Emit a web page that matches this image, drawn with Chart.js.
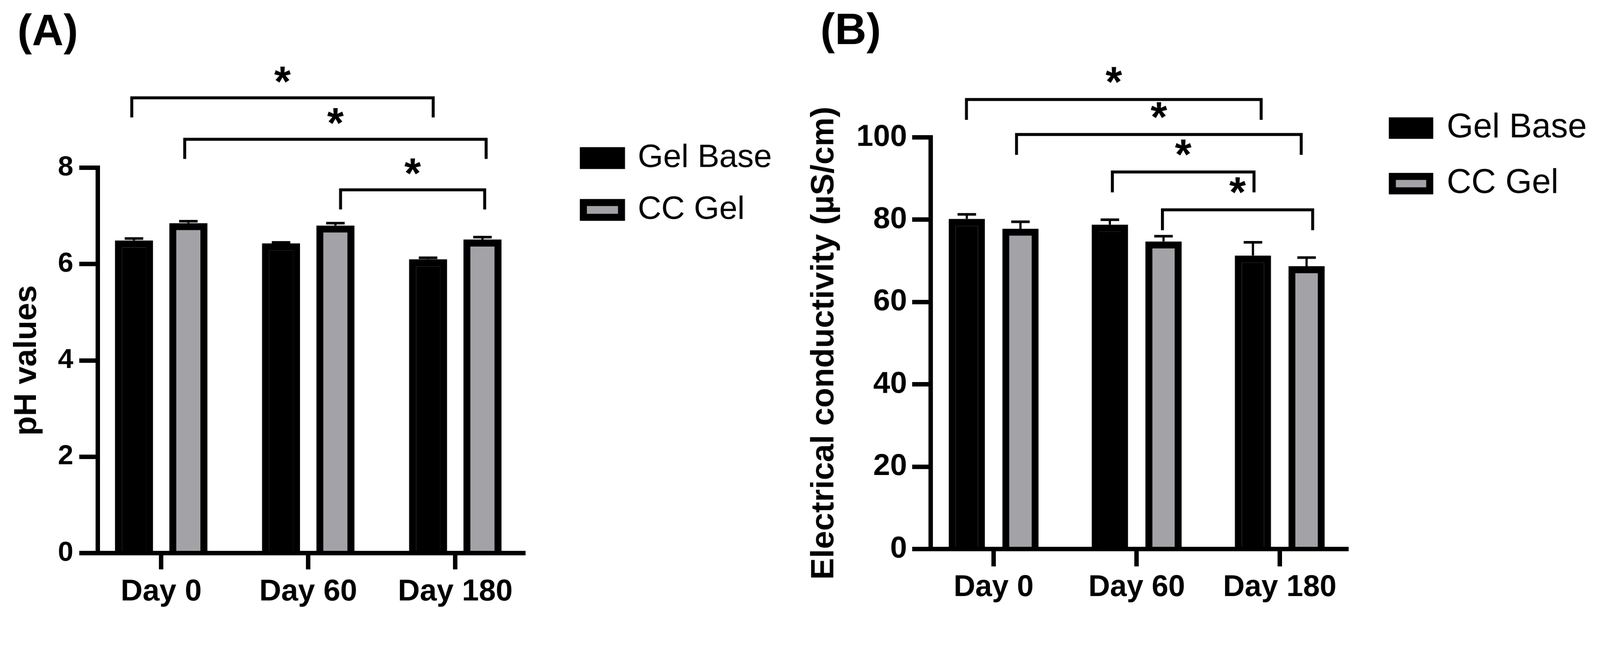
<!DOCTYPE html>
<html>
<head>
<meta charset="utf-8">
<script src="https://cdn.jsdelivr.net/npm/chart.js@4.4.0/dist/chart.umd.min.js"></script>
<style>
  html, body { margin: 0; padding: 0; background: #fff; overflow: hidden; }
  #figure { position: relative; width: 4321px; height: 1664px; }
  .panel { position: absolute; top: 0; height: 1664px; }
  canvas { display: block; }
</style>
</head>
<body>
<div id="figure">
  <div class="panel" style="left:0;width:2160px"><canvas id="ph-chart" width="2160" height="1664"></canvas></div>
  <div class="panel" style="left:2160px;width:2161px"><canvas id="ec-chart" width="2161" height="1664"></canvas></div>
</div>
<script>
var days = ['Day 0', 'Day 60', 'Day 180'];
var seriesNames = ['Gel Base', 'CC Gel'];

var phGelBase = [6.49, 6.43, 6.10];
var phGelBaseErr = [0.04, 0.02, 0.03];
var phCCGel = [6.85, 6.80, 6.51];
var phCCGelErr = [0.04, 0.05, 0.05];
var phTicks = [0, 2, 4, 6, 8];

var ecGelBase = [80.2, 78.8, 71.3];
var ecGelBaseErr = [1.1, 1.2, 3.2];
var ecCCGel = [77.8, 74.7, 68.7];
var ecCCGelErr = [1.7, 1.3, 2.1];
var ecTicks = [0, 20, 40, 60, 80, 100];

// significance brackets: [from, to] on the day axis, then height in axis units
var phBrackets = [[-0.20, 1.85, 9.45], [0.16, 2.21, 8.59], [1.22, 2.20, 7.54]];
var ecBrackets = [[-0.19, 1.87, 109.2], [0.16, 2.15, 100.7], [0.83, 1.82, 91.6], [1.18, 2.23, 82.4]];

// the figure is laid out in screen pixels; fit it to the actual viewport
var fit = window.innerWidth / 4321;
if (fit > 0 && Math.abs(fit - 1) > 0.002) document.getElementById('figure').style.zoom = fit;

var FONT = '"Liberation Sans", Arial, sans-serif';
Chart.defaults.font.family = FONT;
Chart.defaults.color = '#000';

function toPoints(values) {
  return values.map(function (v, i) { return { x: i, y: v }; });
}

// error bars, brackets, stars and the panel letter
function annotations(o) {
  return {
    id: 'annotations',
    afterLayout: function (chart) {
      // move the legend box next to the plot (it clips to its own box)
      var lg = chart.legend;
      lg.left = o.legendLeft;
      lg.top = o.legendTop;
      lg.width = chart.width - o.legendLeft;
      lg.height = chart.height - o.legendTop;
      lg.right = chart.width;
      lg.bottom = chart.height;
    },
    afterDatasetsDraw: function (chart) {
      var ctx = chart.ctx, xs = chart.scales.x, ys = chart.scales.y;
      ctx.save();
      ctx.strokeStyle = '#000';
      ctx.fillStyle = '#000';
      o.errors.forEach(function (errs, d) {
        var values = chart.data.datasets[d].data;
        chart.getDatasetMeta(d).data.forEach(function (bar, i) {
          var top = ys.getPixelForValue(values[i].y + errs[i]);
          ctx.lineWidth = 6;
          ctx.beginPath(); ctx.moveTo(bar.x, bar.y); ctx.lineTo(bar.x, top); ctx.stroke();
          ctx.lineWidth = 7;
          ctx.beginPath(); ctx.moveTo(bar.x - 25, top); ctx.lineTo(bar.x + 25, top); ctx.stroke();
        });
      });

      ctx.lineWidth = 8;
      ctx.font = 'bold 115px ' + FONT;
      ctx.textAlign = 'center';
      ctx.textBaseline = 'alphabetic';
      o.brackets.forEach(function (b) {
        var x1 = xs.getPixelForValue(b[0]), x2 = xs.getPixelForValue(b[1]), y = ys.getPixelForValue(b[2]);
        ctx.beginPath();
        ctx.moveTo(x1, y + o.drop); ctx.lineTo(x1, y); ctx.lineTo(x2, y); ctx.lineTo(x2, y + o.drop);
        ctx.stroke();
        var m = ctx.measureText('*');
        var cy = y - o.starGap;
        ctx.fillText('*', (x1 + x2) / 2, cy + (m.actualBoundingBoxAscent - m.actualBoundingBoxDescent) / 2);
      });

      ctx.textAlign = 'left';
      ctx.font = 'bold 118px ' + FONT;
      ctx.fillText(o.letter, o.letterX, o.letterY);
      ctx.restore();
    }
  };
}

function axisStyle(tickLength) {
  return {
    grid: { drawOnChartArea: false, offset: false, tickLength: tickLength, lineWidth: 12, tickWidth: 12, tickColor: '#000', color: '#000' },
    border: { display: true, width: 12, color: '#000' }
  };
}

var phChart = new Chart(document.getElementById('ph-chart'), {
  type: 'bar',
  data: {
    datasets: [
      { label: seriesNames[0], data: toPoints(phGelBase), backgroundColor: '#000', borderColor: '#000', borderWidth: 19, categoryPercentage: 0.74, barPercentage: 0.70 },
      { label: seriesNames[1], data: toPoints(phCCGel), backgroundColor: '#a3a3a7', borderColor: '#000', borderWidth: 19, categoryPercentage: 0.74, barPercentage: 0.70 }
    ]
  },
  options: {
    responsive: false, animation: false, devicePixelRatio: 1,
    layout: { padding: { top: 453, right: 647, bottom: 0, left: 0 } },
    plugins: {
      tooltip: { enabled: false },
      legend: { position: 'right', align: 'start', maxWidth: 100,
        labels: { boxWidth: 103, boxHeight: 40, padding: 52, color: '#000', font: { size: 88 } } }
    },
    scales: {
      x: Object.assign(axisStyle(44), {
        type: 'linear', min: -0.431, max: 2.463, offset: false,
        ticks: { stepSize: 1, includeBounds: false, autoSkip: false, maxRotation: 0, padding: 12,
          font: { size: 82, weight: 'bold' }, callback: function (v) { return days[v]; } },
        afterFit: function (s) { s.height = 170; }
      }),
      y: Object.assign(axisStyle(50), {
        min: phTicks[0], max: phTicks[phTicks.length - 1],
        ticks: { stepSize: phTicks[1] - phTicks[0], padding: 16, font: { size: 75, weight: 'bold' } },
        title: { display: true, text: 'pH values', font: { size: 86, weight: 'bold' }, padding: { top: 22, bottom: 0 } },
        afterFit: function (s) { s.width = 264; }
      })
    }
  },
  plugins: [annotations({
    errors: [phGelBaseErr, phCCGelErr], brackets: phBrackets, drop: 53, starGap: 63,
    legendLeft: 1523, legendTop: 331, letter: '(A)', letterX: 47, letterY: 122
  })]
});

var ecChart = new Chart(document.getElementById('ec-chart'), {
  type: 'bar',
  data: {
    datasets: [
      { label: seriesNames[0], data: toPoints(ecGelBase), backgroundColor: '#000', borderColor: '#000', borderWidth: 19, categoryPercentage: 0.75, barPercentage: 0.676 },
      { label: seriesNames[1], data: toPoints(ecCCGel), backgroundColor: '#a3a3a7', borderColor: '#000', borderWidth: 19, categoryPercentage: 0.75, barPercentage: 0.676 }
    ]
  },
  options: {
    responsive: false, animation: false, devicePixelRatio: 1,
    layout: { padding: { top: 371, right: 585, bottom: 0, left: 0 } },
    plugins: {
      tooltip: { enabled: false },
      legend: { position: 'right', align: 'start', maxWidth: 100,
        labels: { boxWidth: 101, boxHeight: 39, padding: 58, color: '#000', font: { size: 92 } } }
    },
    scales: {
      x: Object.assign(axisStyle(47), {
        type: 'linear', min: -0.44, max: 2.466, offset: false,
        ticks: { stepSize: 1, includeBounds: false, autoSkip: false, maxRotation: 0, padding: 9,
          font: { size: 81, weight: 'bold' }, callback: function (v) { return days[v]; } },
        afterFit: function (s) { s.height = 181; }
      }),
      y: Object.assign(axisStyle(50), {
        min: ecTicks[0], max: ecTicks[ecTicks.length - 1],
        ticks: { stepSize: ecTicks[1] - ecTicks[0], padding: 14, font: { size: 82, weight: 'bold' } },
        title: { display: true, text: 'Electrical conductivity (µS/cm)', font: { size: 88, weight: 'bold' }, padding: { top: 13, bottom: 0 } },
        afterFit: function (s) { s.width = 353; }
      })
    }
  },
  plugins: [annotations({
    errors: [ecGelBaseErr, ecCCGelErr], brackets: ecBrackets, drop: 55, starGap: 66,
    legendLeft: 1542, legendTop: 242, letter: '(B)', letterX: 55, letterY: 119
  })]
});
</script>
</body>
</html>
